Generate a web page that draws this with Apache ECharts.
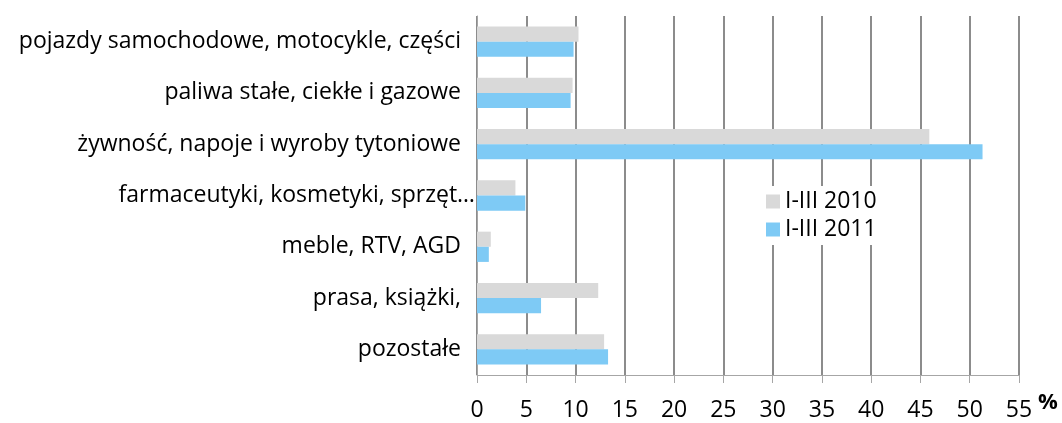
<!DOCTYPE html>
<html>
<head>
<meta charset="utf-8">
<script src="https://cdn.jsdelivr.net/npm/echarts@6/dist/echarts.min.js"></script>
<style>
  html, body { margin: 0; padding: 0; background: #fff; }
</style>
</head>
<body>
<div id="main" style="width: 1062px;height:423px;"></div>
<script type="text/javascript">
    // kategorie od góry do dołu
    var categories = [
        'pojazdy samochodowe, motocykle, części',
        'paliwa stałe, ciekłe i gazowe',
        'żywność, napoje i wyroby tytoniowe',
        'farmaceutyki, kosmetyki, sprzęt…',
        'meble, RTV, AGD',
        'prasa, książki,',
        'pozostałe'
    ];
    var seriesNames = ['I-III 2010', 'I-III 2011'];
    var values2010 = [10.3, 9.7, 45.9, 3.9, 1.4, 12.3, 12.9];
    var values2011 = [9.8, 9.5, 51.3, 4.9, 1.2, 6.5, 13.3];
    var xTicks = [0, 55, 5]; // min, max, interval

    var myChart = echarts.init(document.getElementById('main'));
    var font = 'Open Sans';
    var fs = 23;

    var option = {
        animation: false,
        textStyle: { fontFamily: font },
        grid: { left: 477, right: 43, top: 16, bottom: 48 },
        legend: {
            orient: 'vertical',
            left: 762,
            top: 186,
            itemWidth: 14,
            itemHeight: 14,
            itemGap: 5,
            padding: [4, 6, 4, 4],
            backgroundColor: '#fff',
            icon: 'rect',
            textStyle: { fontSize: fs, color: '#000', fontFamily: font },
            data: seriesNames
        },
        xAxis: {
            type: 'value',
            min: xTicks[0],
            max: xTicks[1],
            interval: xTicks[2],
            name: '%',
            nameLocation: 'end',
            nameGap: 10,
            nameTextStyle: { fontSize: 22, fontWeight: 'bold', color: '#000', verticalAlign: 'top', padding: [17, 0, 0, 0] },
            axisLine: { show: true, lineStyle: { color: '#a6a6a6', width: 1 } },
            axisTick: { show: true, length: 8, lineStyle: { color: '#a6a6a6' } },
            axisLabel: { fontSize: fs, color: '#000', margin: 24 },
            splitLine: { show: true, lineStyle: { color: '#8c8c8c', width: 2 } }
        },
        yAxis: {
            type: 'category',
            inverse: true,
            data: categories,
            axisLine: { show: true, lineStyle: { color: '#a6a6a6' } },
            axisTick: { show: false },
            axisLabel: {
                margin: 2,
                formatter: function (v) {
                    // ucięta etykieta sięga w oryginale aż do osi
                    return v.indexOf('…') >= 0 ? '{b|' + v + '}' : '{a|' + v + '}';
                },
                rich: {
                    a: { fontSize: fs, color: '#000', fontFamily: font, padding: [0, 14, 0, 0] },
                    b: { fontSize: fs, color: '#000', fontFamily: font, padding: [0, 0, 0, 0] }
                }
            }
        },
        series: [
            {
                name: seriesNames[0],
                type: 'bar',
                data: values2010,
                barGap: '0%',
                barCategoryGap: '41%',
                itemStyle: { color: '#d9d9d9' },
                z: 3
            },
            {
                name: seriesNames[1],
                type: 'bar',
                data: values2011,
                itemStyle: { color: '#7ecaf5' },
                z: 3
            }
        ]
    };

    myChart.setOption(option);
</script>
</body>
</html>
